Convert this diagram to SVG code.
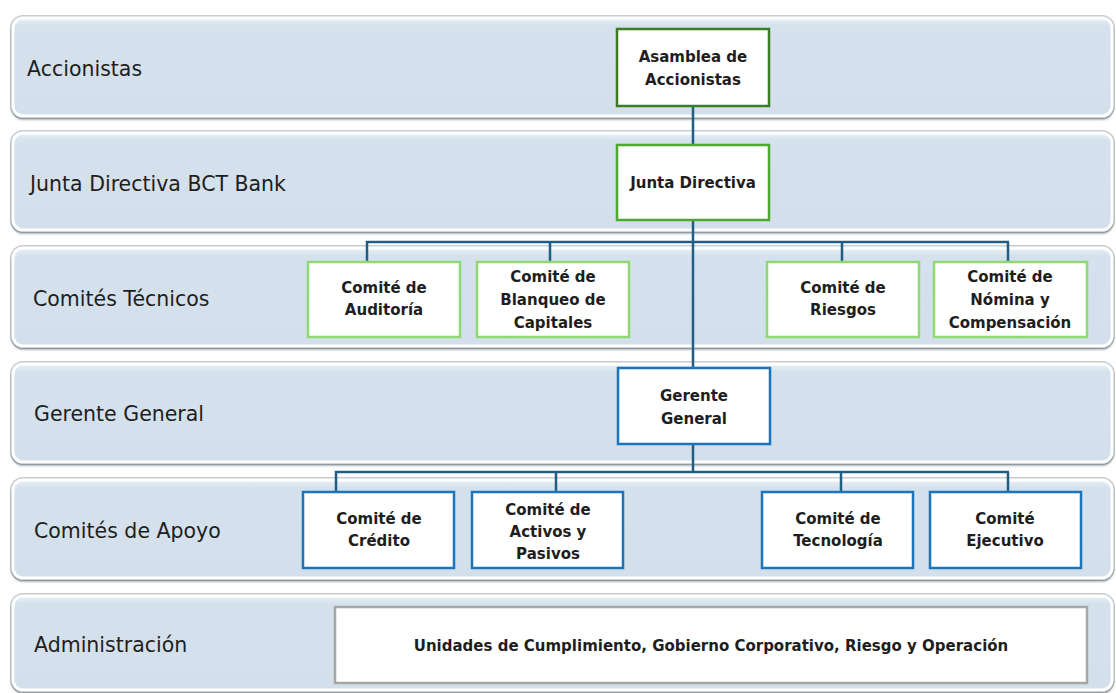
<svg xmlns="http://www.w3.org/2000/svg" width="1116" height="693" viewBox="0 0 1116 693">
<defs>
<linearGradient id="bandGrad" x1="0" y1="0" x2="0" y2="1">
<stop offset="0" stop-color="#eaf1f7"/>
<stop offset="0.08" stop-color="#d5e1ec"/>
<stop offset="1" stop-color="#d3dfea"/>
</linearGradient>
<filter id="sh" x="-2%" y="-10%" width="104%" height="125%">
<feGaussianBlur in="SourceAlpha" stdDeviation="1.2"/>
<feOffset dx="0" dy="1.5" result="b"/>
<feFlood flood-color="#6f7d88" flood-opacity="0.8"/>
<feComposite in2="b" operator="in"/>
<feMerge><feMergeNode/><feMergeNode in="SourceGraphic"/></feMerge>
</filter>
<style>
.halo{fill:none;stroke:#c9cdd1;stroke-width:6}
.band{fill:url(#bandGrad);stroke:#ffffff;stroke-width:3;filter:url(#sh)}
.bl{font-family:"DejaVu Sans",sans-serif;font-size:20.5px;fill:#1e1e1e}
.nt{font-family:"DejaVu Sans",sans-serif;font-weight:bold;font-size:15px;fill:#1e1e1e;text-anchor:middle}
.box{fill:#ffffff;stroke-width:2.5}
.g1{stroke:#3b7d23}
.g2{stroke:#4ea72e}
.g3{stroke:#8ed973}
.bb{stroke:#1c75bc}
.gr{stroke:#a6a6a6}
.con{fill:none;stroke:#215e85;stroke-width:2.5}
</style>
</defs>
<rect width="1116" height="693" fill="#ffffff"/>
<g id="bands">
<g id="band-accionistas"><rect class="halo" x="13" y="18" width="1099" height="98" rx="10"/><rect class="band" x="13" y="18" width="1099" height="98" rx="10"/><text class="bl" x="27" y="76">Accionistas</text></g>
<g id="band-junta"><rect class="halo" x="13" y="133" width="1099" height="97" rx="10"/><rect class="band" x="13" y="133" width="1099" height="97" rx="10"/><text class="bl" x="30" y="191">Junta Directiva BCT Bank</text></g>
<g id="band-tecnicos"><rect class="halo" x="13" y="248" width="1099" height="98" rx="10"/><rect class="band" x="13" y="248" width="1099" height="98" rx="10"/><text class="bl" x="33" y="306">Comités Técnicos</text></g>
<g id="band-gerente"><rect class="halo" x="13" y="364" width="1099" height="98" rx="10"/><rect class="band" x="13" y="364" width="1099" height="98" rx="10"/><text class="bl" x="34" y="421">Gerente General</text></g>
<g id="band-apoyo"><rect class="halo" x="13" y="480" width="1099" height="98" rx="10"/><rect class="band" x="13" y="480" width="1099" height="98" rx="10"/><text class="bl" x="34" y="538">Comités de Apoyo</text></g>
<g id="band-admin"><rect class="halo" x="13" y="596" width="1099" height="94" rx="10"/><rect class="band" x="13" y="596" width="1099" height="94" rx="10"/><text class="bl" x="34" y="652">Administración</text></g>
</g>
<g id="connectors">
<path class="con" d="M693,106 V368"/>
<path class="con" d="M367,262 V242 H1009 M550,242 V262 M842,242 V262 M1008,242 V262"/>
<path class="con" d="M693,444 V472 M336,492 V472 H1009 M556,472 V492 M841,472 V492 M1008,472 V492"/>
</g>
<g id="n-asamblea"><rect class="box g1" x="617" y="29" width="152" height="77"/><text class="nt" x="693" y="62">Asamblea de</text><text class="nt" x="693" y="85">Accionistas</text></g>
<g id="n-junta"><rect class="box g2" x="617" y="145" width="152" height="75"/><text class="nt" x="693" y="188">Junta Directiva</text></g>
<g id="n-auditoria"><rect class="box g3" x="308" y="262" width="152" height="75"/><text class="nt" x="384" y="293">Comité de</text><text class="nt" x="384" y="315">Auditoría</text></g>
<g id="n-blanqueo"><rect class="box g3" x="477" y="262" width="152" height="75"/><text class="nt" x="553" y="282">Comité de</text><text class="nt" x="553" y="305">Blanqueo de</text><text class="nt" x="553" y="328">Capitales</text></g>
<g id="n-riesgos"><rect class="box g3" x="767" y="262" width="152" height="75"/><text class="nt" x="843" y="293">Comité de</text><text class="nt" x="843" y="315">Riesgos</text></g>
<g id="n-nomina"><rect class="box g3" x="934" y="262" width="153" height="75"/><text class="nt" x="1010" y="282">Comité de</text><text class="nt" x="1010" y="305">Nómina y</text><text class="nt" x="1010" y="328">Compensación</text></g>
<g id="n-gerente"><rect class="box bb" x="618" y="368" width="152" height="76"/><text class="nt" x="694" y="401">Gerente</text><text class="nt" x="694" y="424">General</text></g>
<g id="n-credito"><rect class="box bb" x="303" y="492" width="151" height="76"/><text class="nt" x="379" y="524">Comité de</text><text class="nt" x="379" y="546">Crédito</text></g>
<g id="n-activos"><rect class="box bb" x="472" y="492" width="151" height="76"/><text class="nt" x="548" y="515">Comité de</text><text class="nt" x="548" y="537">Activos y</text><text class="nt" x="548" y="559">Pasivos</text></g>
<g id="n-tecnologia"><rect class="box bb" x="762" y="492" width="151" height="76"/><text class="nt" x="838" y="524">Comité de</text><text class="nt" x="838" y="546">Tecnología</text></g>
<g id="n-ejecutivo"><rect class="box bb" x="930" y="492" width="151" height="76"/><text class="nt" x="1005" y="524">Comité</text><text class="nt" x="1005" y="546">Ejecutivo</text></g>
<g id="n-unidades"><rect class="box gr" x="335" y="607" width="752" height="76"/><text class="nt" x="711" y="651">Unidades de Cumplimiento, Gobierno Corporativo, Riesgo y Operación</text></g>
</svg>
